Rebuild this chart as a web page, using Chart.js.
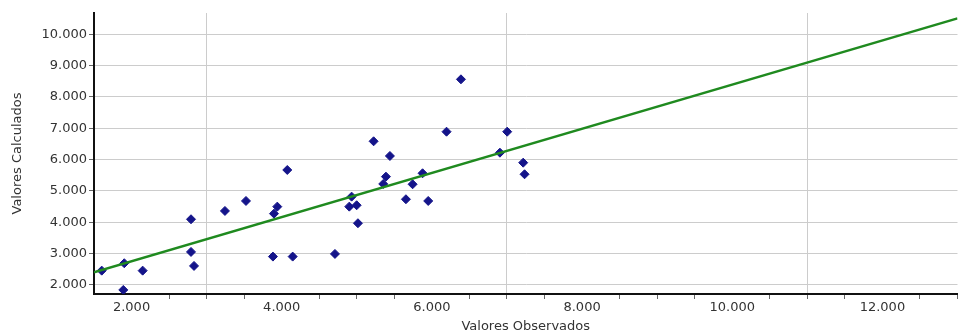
<!DOCTYPE html>
<html>
<head>
<meta charset="utf-8">
<script src="https://cdn.jsdelivr.net/npm/chart.js@4.4.0/dist/chart.umd.min.js"></script>
<style>
    html, body { margin: 0; padding: 0; background: #fff; overflow: hidden; }
    #wrap { width: 958px; height: 336px; position: relative; overflow: hidden; }
    #inner { width: 958px; height: 336px; position: absolute; left: 0; top: 0; }
</style>
</head>
<body>
<div id="wrap"><div id="inner"><canvas id="grafico"></canvas></div></div>
<script>
// valores
const observados = [
    1603, 1890, 1903, 2148, 2792, 2792, 2832, 3244, 3524, 3883, 3897,
    3941, 4074, 4146, 4900, 4998, 4931, 5015, 4709, 5224, 5441, 5388,
    5352, 5654, 5743, 5876, 5951, 6195, 6387, 6906, 7003, 7216, 7234,
];
const calculados = [
    2456, 1840, 2692, 2456, 4096, 3053, 2606, 4361, 4680, 2904, 4275,
    4499, 5669, 2904, 4499, 4543, 4818, 3969, 2989, 6585, 6116, 5456,
    5223, 4735, 5213, 5564, 4680, 6891, 8563, 6221, 6891, 5902, 5532,
];

// reta de ajuste
const retaX = [1500, 13000];
const retaY = [2400, 10510];

const limitesX = [1500, 13000];
const limitesY = [1710, 10680];
const rotulosX = [2000, 4000, 6000, 8000, 10000, 12000];
const gradeX = [3000, 7000, 11000];

const formatar = (n) => String(n).replace(/\B(?=(\d{3})+(?!\d))/g, '.');

const fonte = { family: "'DejaVu Sans', sans-serif", size: 13 };

const grafico = new Chart(document.getElementById('grafico'), {
    type: 'scatter',
    data: {
        datasets: [
            {
                type: 'line',
                data: retaX.map((x, i) => ({ x, y: retaY[i] })),
                borderColor: '#1f8a1f',
                borderWidth: 2.5,
                pointRadius: 0,
                fill: false,
            },
            {
                data: observados.map((x, i) => ({ x, y: calculados[i] })),
                pointStyle: 'rectRot',
                pointRadius: 4.5,
                backgroundColor: '#14148a',
                borderColor: '#14148a',
                borderWidth: 1,
            },
        ],
    },
    options: {
        responsive: true,
        maintainAspectRatio: false,
        animation: false,
        layout: { padding: { top: 13, right: 0, left: 0, bottom: 0 } },
        plugins: { legend: { display: false }, tooltip: { enabled: false } },
        scales: {
            x: {
                type: 'linear',
                min: limitesX[0],
                max: limitesX[1],
                afterBuildTicks: (scale) => {
                    const t = [];
                    for (let v = 2000; v <= 13000; v += 500) t.push({ value: v });
                    scale.ticks = t;
                },
                afterFit: (scale) => { scale.height = 42; },
                border: { color: '#111', width: 2 },
                grid: {
                    color: (ctx) => (ctx.tick && gradeX.includes(ctx.tick.value) ? '#cccccc' : 'rgba(0,0,0,0)'),
                    tickColor: (ctx) => (ctx.tick && rotulosX.includes(ctx.tick.value) ? 'rgba(0,0,0,0)' : '#666'),
                    tickLength: 5,
                },
                ticks: {
                    autoSkip: false,
                    maxRotation: 0,
                    padding: 1,
                    color: '#333',
                    font: fonte,
                    callback: (v) => (rotulosX.includes(v) ? formatar(v) : ''),
                },
                title: {
                    display: true,
                    text: 'Valores Observados',
                    color: '#333',
                    font: fonte,
                    padding: { top: 0, bottom: 2 },
                },
            },
            y: {
                min: limitesY[0],
                max: limitesY[1],
                afterBuildTicks: (scale) => {
                    const t = [];
                    for (let v = 2000; v <= 10000; v += 1000) t.push({ value: v });
                    scale.ticks = t;
                },
                afterFit: (scale) => { scale.width = 94; },
                border: { color: '#111', width: 2 },
                grid: { color: '#cccccc', tickColor: '#666', tickLength: 5 },
                ticks: {
                    padding: 2,
                    color: '#333',
                    font: fonte,
                    callback: (v) => formatar(v),
                },
                title: {
                    display: true,
                    text: 'Valores Calculados',
                    color: '#333',
                    font: fonte,
                    padding: { top: 10, bottom: 0 },
                },
            },
        },
    },
});

// a área do gráfico deve chegar até a borda direita (x = 957);
// o canvas fica um pouco mais largo e o excesso é cortado pelo #wrap
const sobra = 957 - grafico.chartArea.right;
if (sobra > 0) {
    document.getElementById('inner').style.width = Math.round(958 + sobra) + 'px';
    grafico.resize();
}
</script>
</body>
</html>
